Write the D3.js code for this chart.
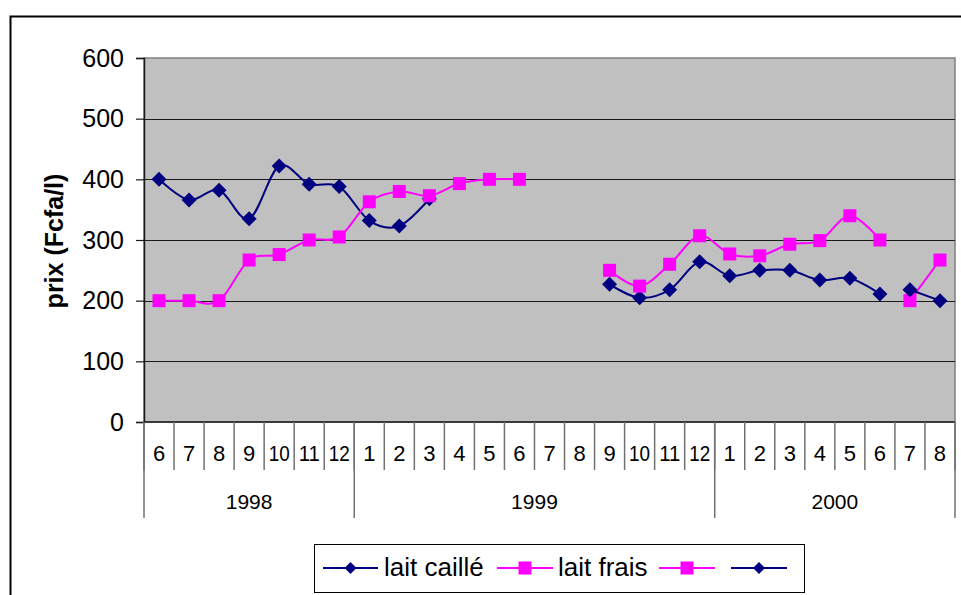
<!DOCTYPE html>
<html>
<head>
<meta charset="utf-8">
<script src="https://cdn.jsdelivr.net/npm/d3@7"></script>
<style>
  html, body { margin: 0; padding: 0; background: #fff; }
  svg { display: block; font-family: "Liberation Sans", Arial, sans-serif; }
</style>
</head>
<body>
<svg id="chart" width="961" height="595"></svg>
<script>
// ---- data ----
const months = ["6","7","8","9","10","11","12","1","2","3","4","5","6","7","8","9","10","11","12","1","2","3","4","5","6","7","8"];
const years = ["1998","1999","2000"];
const yearCounts = [7, 12, 8];
const yTicks = [0, 100, 200, 300, 400, 500, 600];
const laitCaille = [400,366,382,335,422,392,388,332,323,368,null,null,null,null,null,227,205,218,264,241,250,250,234,237,211,null,null];
const laitFrais  = [200,200,200,267,276,300,305,363,380,373,393,400,400,null,null,250,224,260,307,277,274,293,299,340,300,null,null];
const serie3     = [null,null,null,null,null,null,null,null,null,null,null,null,null,null,null,null,null,null,null,null,null,null,null,null,null,200,267];
const serie4     = [null,null,null,null,null,null,null,null,null,null,null,null,null,null,null,null,null,null,null,null,null,null,null,null,null,218,200];
const seriesNames = ["lait caillé", "lait frais", "", ""];

// ---- layout ----
const svg = d3.select("#chart");
const plot = { left: 144, right: 955, top: 58, bottom: 422 };
const NAVY = "#000080", PINK = "#FF00FF";

// outer frame
svg.append("rect").attr("x", 10.5).attr("y", 16.5).attr("width", 1000).attr("height", 1000)
  .attr("fill", "none").attr("stroke", "#000").attr("stroke-width", 2);

const idx = months.map((m, i) => i);
const x = d3.scaleBand().domain(idx).range([plot.left, plot.right]).padding(0);
const y = d3.scaleLinear().domain([0, 600]).range([plot.bottom, plot.top]);

// plot background
svg.append("rect").attr("x", plot.left).attr("y", plot.top)
  .attr("width", plot.right - plot.left).attr("height", plot.bottom - plot.top)
  .attr("fill", "#C0C0C0").attr("stroke", "#808080").attr("stroke-width", 1.5);

// gridlines
svg.append("g").selectAll("line").data(yTicks.filter(v => v > 0 && v < 600)).join("line")
  .attr("x1", plot.left).attr("x2", plot.right)
  .attr("y1", d => Math.round(y(d)) + 0.5).attr("y2", d => Math.round(y(d)) + 0.5)
  .attr("stroke", "#1a1a1a").attr("stroke-width", 1.2);

// y axis
const yAxis = d3.axisLeft(y).tickValues(yTicks).tickSize(8).tickPadding(12).tickFormat(d3.format("d"));
const gy = svg.append("g").attr("transform", `translate(${plot.left},0)`).call(yAxis);
gy.select(".domain").attr("stroke", "#1a1a1a").attr("stroke-width", 1.5);
gy.selectAll(".tick line").attr("stroke", "#1a1a1a").attr("stroke-width", 1.2);
gy.selectAll(".tick text").attr("font-size", 25).attr("fill", "#000")
  .attr("font-family", "Liberation Sans, Arial, sans-serif");

// x axis baseline
svg.append("line").attr("x1", plot.left).attr("x2", plot.right)
  .attr("y1", plot.bottom).attr("y2", plot.bottom)
  .attr("stroke", "#1a1a1a").attr("stroke-width", 1.5);

// month separators
const bw = x.bandwidth();
const bounds = d3.range(months.length + 1).map(k => plot.left + k * bw);
svg.append("g").selectAll("line").data(bounds).join("line")
  .attr("x1", d => d).attr("x2", d => d)
  .attr("y1", plot.bottom).attr("y2", 470)
  .attr("stroke", "#707070").attr("stroke-width", 1.5);

// month labels
svg.append("g").selectAll("text").data(idx).join("text")
  .attr("x", d => x(d) + bw / 2).attr("y", 461)
  .attr("text-anchor", "middle").attr("font-size", 22).attr("fill", "#000")
  .attr("textLength", d => months[d].length > 1 ? Math.min(21, bw - 6) : null)
  .attr("lengthAdjust", "spacingAndGlyphs")
  .text(d => months[d]);

// year separators and labels
const yearStarts = [0];
yearCounts.forEach((c, i) => yearStarts.push(yearStarts[i] + c));
svg.append("g").selectAll("line").data(yearStarts).join("line")
  .attr("x1", d => plot.left + d * bw).attr("x2", d => plot.left + d * bw)
  .attr("y1", plot.bottom).attr("y2", 518)
  .attr("stroke", "#707070").attr("stroke-width", 1.5);
svg.append("g").selectAll("text").data(years).join("text")
  .attr("x", (d, i) => plot.left + (yearStarts[i] + yearCounts[i] / 2) * bw)
  .attr("y", 509).attr("text-anchor", "middle").attr("font-size", 21).attr("fill", "#000")
  .text(d => d);

// y axis title
svg.append("text").attr("transform", "translate(63,241) rotate(-90)")
  .attr("text-anchor", "middle").attr("font-size", 25).attr("font-weight", "bold")
  .attr("fill", "#000").text("prix (Fcfa/l)");

// ---- series ----
const seriesList = [
  { values: laitCaille, color: NAVY, marker: "diamond" },
  { values: laitFrais,  color: PINK, marker: "square" },
  { values: serie3,     color: PINK, marker: "square" },
  { values: serie4,     color: NAVY, marker: "diamond" }
];
const line = d3.line()
  .defined(d => d.v != null)
  .x(d => x(d.i) + bw / 2).y(d => y(d.v))
  .curve(d3.curveCardinal.tension(0));

function drawMarker(g, type, cx, cy, size, color) {
  if (type === "square") {
    g.append("rect").attr("x", cx - size / 2).attr("y", cy - size / 2)
      .attr("width", size).attr("height", size).attr("fill", color);
  } else {
    const h = size / 2 + 0.5;
    g.append("path").attr("d", `M${cx},${cy - h}L${cx + h},${cy}L${cx},${cy + h}L${cx - h},${cy}Z`)
      .attr("fill", color);
  }
}

seriesList.forEach(s => {
  const pts = s.values.map((v, i) => ({ i, v }));
  const g = svg.append("g");
  g.append("path").datum(pts).attr("d", line)
    .attr("fill", "none").attr("stroke", s.color).attr("stroke-width", 2);
  pts.filter(p => p.v != null).forEach(p => {
    drawMarker(g, s.marker, x(p.i) + bw / 2, y(p.v), s.marker === "square" ? 13 : 14, s.color);
  });
});

// ---- legend ----
const legend = svg.append("g");
legend.append("rect").attr("x", 314.5).attr("y", 544.5).attr("width", 490).attr("height", 48)
  .attr("fill", "#fff").attr("stroke", "#000").attr("stroke-width", 1);
const legendItems = [
  { x1: 323, x2: 378, textX: 384 },
  { x1: 497, x2: 553, textX: 558 },
  { x1: 659, x2: 715, textX: null },
  { x1: 731, x2: 787, textX: null }
];
const ly = 568;
legendItems.forEach((it, k) => {
  const s = seriesList[k];
  legend.append("line").attr("x1", it.x1).attr("x2", it.x2).attr("y1", ly).attr("y2", ly)
    .attr("stroke", s.color).attr("stroke-width", 2);
  drawMarker(legend, s.marker, (it.x1 + it.x2) / 2, ly, s.marker === "square" ? 13 : 11, s.color);
  if (seriesNames[k]) {
    legend.append("text").attr("x", it.textX).attr("y", ly + 8)
      .attr("font-size", 26).attr("fill", "#000").text(seriesNames[k]);
  }
});
</script>
</body>
</html>
